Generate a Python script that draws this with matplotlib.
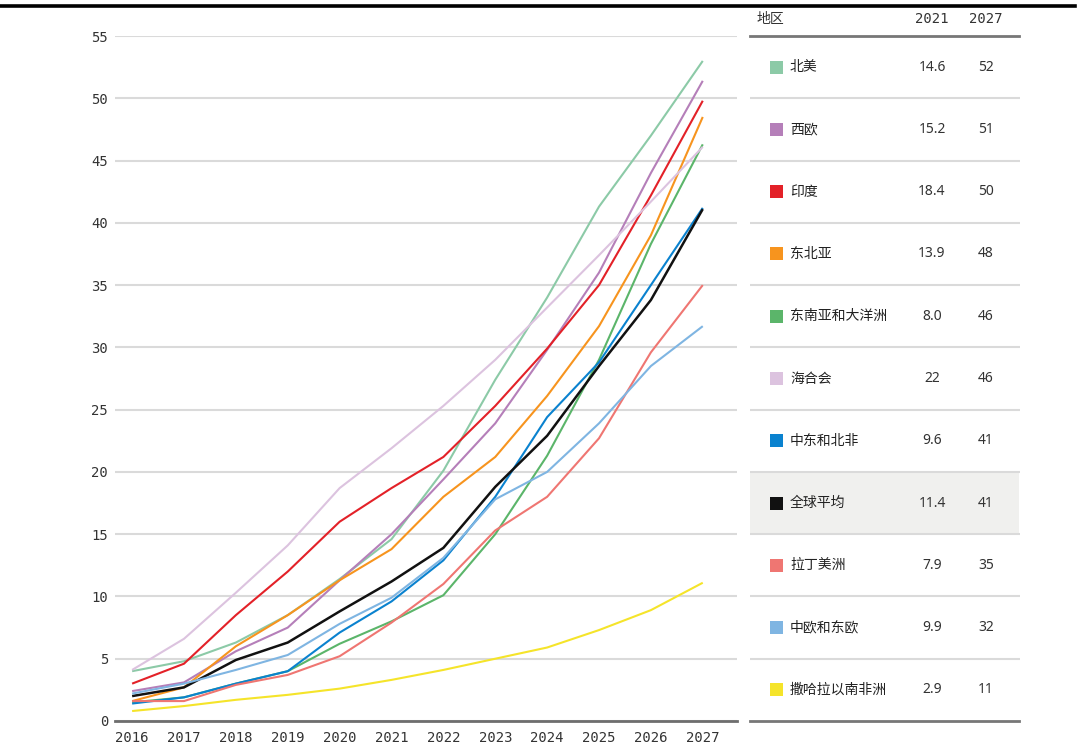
#!/usr/bin/env python3
"""
Line chart of regional values 2016-2027 with a side table of 2021 / 2027 figures.
"""

import matplotlib.pyplot as plt
from matplotlib.patches import Rectangle

years = list(range(2016, 2028))

regions = ["北美", "西欧", "印度", "东北亚", "东南亚和大洋洲", "海合会",
           "中东和北非", "全球平均", "拉丁美洲", "中欧和东欧", "撒哈拉以南非洲"]
colors = ["#8ccaa7", "#b57fb9", "#e32128", "#f7941e", "#5bb56a", "#dcc3df",
          "#0a82cf", "#111111", "#ef7672", "#7fb5e2", "#f5e42a"]

north_america = [4.0, 4.8, 6.3, 8.5, 11.4, 14.6, 20.1, 27.4, 34.0, 41.3, 47.0, 53.0]
west_europe = [2.4, 3.1, 5.6, 7.5, 11.3, 15.0, 19.4, 23.9, 29.8, 36.0, 44.0, 51.4]
india = [3.0, 4.6, 8.5, 12.0, 16.0, 18.7, 21.2, 25.3, 29.9, 35.0, 42.2, 49.8]
ne_asia = [1.6, 2.7, 6.0, 8.5, 11.3, 13.8, 18.0, 21.2, 26.1, 31.7, 39.0, 48.5]
se_asia = [1.5, 1.9, 3.0, 4.0, 6.2, 8.0, 10.1, 15.0, 21.3, 29.0, 38.3, 46.3]
gcc = [4.1, 6.6, 10.3, 14.1, 18.7, 21.9, 25.3, 29.0, 33.2, 37.4, 41.7, 46.1]
mena = [1.4, 1.9, 3.0, 4.0, 7.1, 9.6, 12.9, 18.0, 24.4, 28.8, 35.0, 41.2]
world = [2.0, 2.7, 4.9, 6.3, 8.8, 11.2, 13.9, 18.8, 22.9, 28.5, 33.8, 41.1]
latin_america = [1.6, 1.6, 2.9, 3.7, 5.2, 7.9, 11.0, 15.3, 18.0, 22.7, 29.6, 35.0]
ce_europe = [2.2, 3.0, 4.1, 5.3, 7.8, 9.9, 13.1, 17.8, 20.0, 23.9, 28.5, 31.7]
ss_africa = [0.8, 1.2, 1.7, 2.1, 2.6, 3.3, 4.1, 5.0, 5.9, 7.3, 8.9, 11.1]

series = [north_america, west_europe, india, ne_asia, se_asia, gcc,
          mena, world, latin_america, ce_europe, ss_africa]

# table columns
col_2021 = ["14.6", "15.2", "18.4", "13.9", "8.0", "22", "9.6", "11.4", "7.9", "9.9", "2.9"]
col_2027 = ["52", "51", "50", "48", "46", "46", "41", "41", "35", "32", "11"]

y_ticks = list(range(0, 56, 5))

CJK = ["Noto Sans CJK SC", "DejaVu Sans"]
MONO = ["DejaVu Sans Mono"]
NUM = ["Noto Sans", "DejaVu Sans"]

W, H = 1080, 751
fig = plt.figure(figsize=(W / 100, H / 100), dpi=100)

# black rule along the top
fig.add_artist(plt.Line2D([0, 1075 / W], [1 - 5.5 / H, 1 - 5.5 / H],
                          color="black", lw=2.6, transform=fig.transFigure))

ax = fig.add_axes([115 / W, 30 / H, 622 / W, 685 / H])
for vals, c in zip(series, colors):
    lw = 1.8 if c == "#111111" else 1.5
    ax.plot(years, vals, color=c, lw=lw, solid_capstyle="butt")

ax.set_xlim(2015.67, 2027.66)
ax.set_ylim(0, 55)
ax.set_yticks(y_ticks)
ax.set_xticks(years)
ax.grid(axis="y", color="#dadada", lw=1.5)
ax.set_axisbelow(True)
for side in ["top", "right", "left"]:
    ax.spines[side].set_visible(False)
ax.spines["bottom"].set_color("#6e6e6e")
ax.spines["bottom"].set_linewidth(2)
ax.tick_params(length=0, labelsize=10, labelcolor="#333333")
ax.tick_params(axis="y", pad=5)
ax.tick_params(axis="x", pad=7)
for lab in ax.get_xticklabels() + ax.get_yticklabels():
    lab.set_family(MONO)

# side table, x in pixels, one unit per row
tab = fig.add_axes([750 / W, 30 / H, 270 / W, 685 / H])
tab.set_xlim(750, 1020)
tab.set_ylim(0, 11)
tab.axis("off")

n = len(regions)
tab.add_patch(Rectangle((750, n - 8), 269, 1, color="#f0f0ee", lw=0, zorder=0))
for k in range(1, n):
    tab.plot([750, 1019], [k, k], color="#dadada", lw=1.5, zorder=1)
for k in [0, n]:
    tab.plot([750, 1019], [k, k], color="#777777", lw=2, zorder=2, clip_on=False)

hy = n + 17 / 62.3
tab.text(757, hy, "地区", family=CJK, fontsize=10, color="#333333", va="center", ha="left")
tab.text(932, hy, "2021", family=MONO, fontsize=10, color="#333333", va="center", ha="center")
tab.text(986, hy, "2027", family=MONO, fontsize=10, color="#333333", va="center", ha="center")

for i, (name, c) in enumerate(zip(regions, colors)):
    yc = n - i - 0.5
    tab.add_patch(Rectangle((770, yc - 0.105), 13, 0.21, color=c, lw=0, zorder=3))
    tab.text(790, yc, name, family=CJK, fontsize=10, color="#222222", va="center", ha="left")
    tab.text(932, yc, col_2021[i], family=NUM, fontsize=10, color="#333333", va="center", ha="center")
    tab.text(986, yc, col_2027[i], family=NUM, fontsize=10, color="#333333", va="center", ha="center")

fig.savefig("out.png", dpi=100)
